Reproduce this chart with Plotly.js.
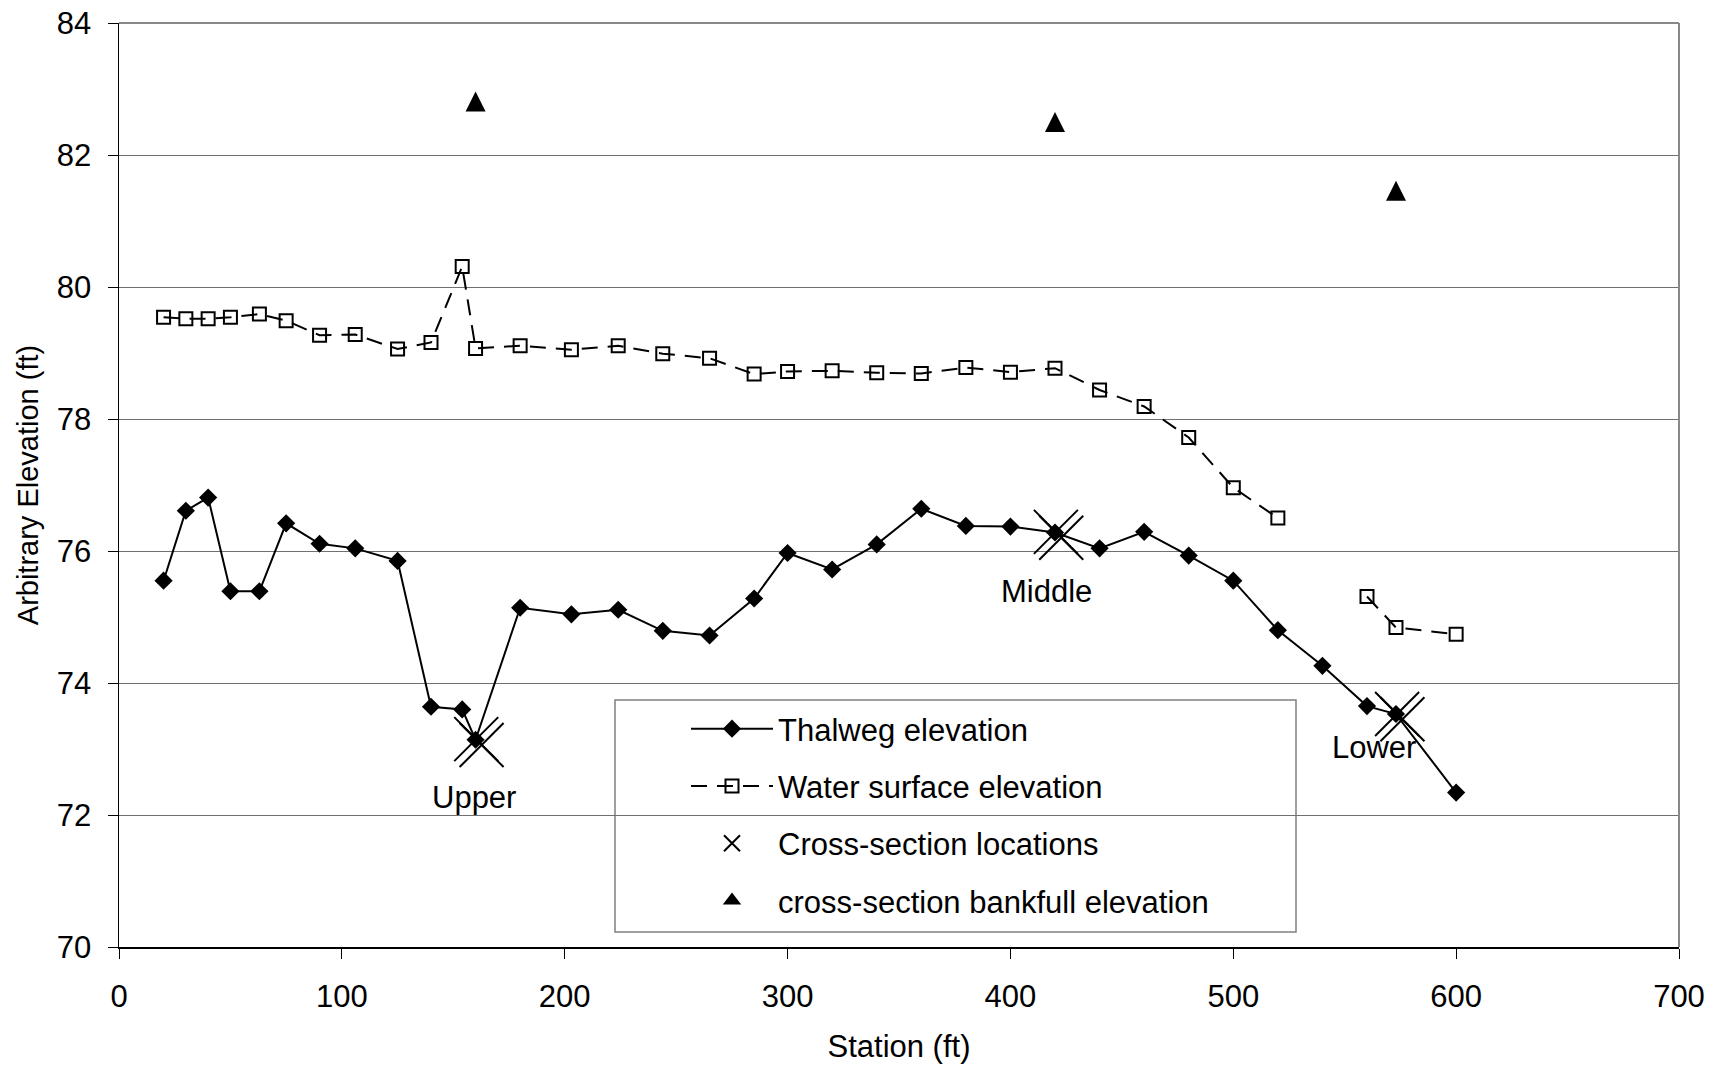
<!DOCTYPE html>
<html>
<head>
<meta charset="utf-8">
<script src="https://cdn.plot.ly/plotly-3.0.1.min.js"></script>
<style>html,body{margin:0;padding:0;background:#fff;}#chart{width:1723px;height:1066px;}</style>
</head>
<body>
<div id="chart"></div>
<script>
// ---- data ----
const stations = [20,30,40,50,63,75,90,106,125,140,154,160,180,203,224,244,265,285,300,320,340,360,380,400,420,440,460,480,500,520,540,560,573,600];
const thalwegElev = [75.55,76.61,76.81,75.39,75.39,76.42,76.11,76.04,75.85,73.64,73.60,73.14,75.14,75.04,75.11,74.79,74.72,75.28,75.97,75.72,76.10,76.64,76.38,76.37,76.28,76.04,76.29,75.93,75.55,74.80,74.26,73.65,73.53,72.34];
const waterElev = [79.54,79.52,79.52,79.54,79.59,79.49,79.27,79.28,79.06,79.16,80.31,79.07,79.11,79.05,79.11,78.99,78.92,78.68,78.72,78.73,78.70,78.69,78.78,78.71,78.77,78.44,78.19,77.72,76.96,76.50,null,75.31,74.84,74.74];
const xsStations = [160.3,162.7,420.4,422.8,573.5,575.9];
const xsElev = [73.15,73.06,76.29,76.20,73.53,73.45];
const bankStations = [160,420,573];
const bankElev = [82.81,82.50,81.46];
const sectionNames = ["Upper","Middle","Lower"];
const sectionLabelX = [159.4,416.4,563.2];
const sectionLabelY = [72.27,75.38,73.03];
const seriesNames = ["Thalweg elevation","Water surface elevation","Cross-section locations","cross-section bankfull elevation"];

const FONT = "Liberation Sans, Arial, Helvetica, sans-serif";
const FS = 31;   // horizontal text
const FSV = 29;  // vertical axis title

const traces = [
  {x: stations, y: thalwegElev, name: seriesNames[0], type: 'scatter', mode: 'lines+markers',
   line: {color: '#000', width: 2}, marker: {symbol: 'diamond', size: 14, color: '#000'}, legendgroup: 'a'},
  {x: stations, y: waterElev, name: seriesNames[1], type: 'scatter', mode: 'lines+markers', connectgaps: false,
   line: {color: '#000', width: 2, dash: '16px,10px'}, marker: {symbol: 'square-open', size: 13, color: '#000', line: {width: 2, color: '#000'}}, legendgroup: 'b'},
  {x: xsStations, y: xsElev, name: seriesNames[2], type: 'scatter', mode: 'markers',
   marker: {symbol: 'x-thin-open', size: 44, color: '#000', line: {width: 2, color: '#000'}}, legendgroup: 'c'},
  // legend entry only (no points) for the bankfull series
  {x: [null], y: [null], name: seriesNames[3], type: 'scatter', mode: 'markers',
   marker: {symbol: 'triangle-up', size: 19, color: '#000'}, legendgroup: 'd'},
  // bankfull points: tall triangle centred on each value
  {x: bankStations, y: bankElev, name: seriesNames[3], type: 'scatter', mode: 'markers', showlegend: false,
   marker: {symbol: 'arrow-down', angle: 180, size: 20, standoff: 10, color: '#000'}, legendgroup: 'd'}
];

const annotations = sectionNames.map((t, i) => ({
  x: sectionLabelX[i], y: sectionLabelY[i], xref: 'x', yref: 'y', text: t, showarrow: false,
  font: {family: FONT, size: FS, color: '#000'}, xanchor: 'center', yanchor: 'middle'
}));

const layout = {
  width: 1723, height: 1066,
  margin: {l: 119, r: 44, t: 23, b: 119, pad: 0},
  paper_bgcolor: '#fff', plot_bgcolor: '#fff',
  font: {family: FONT, size: FS, color: '#000'},
  showlegend: true,
  legend: {
    x: (686 - 119) / 1560, y: 1 - (702 - 23) / 924, xanchor: 'left', yanchor: 'top',
    bgcolor: 'rgba(0,0,0,0)', borderwidth: 0,
    font: {family: FONT, size: FS, color: '#000'},
    traceorder: 'grouped', tracegroupgap: 14, itemwidth: 82
  },
  xaxis: {
    range: [0, 700], dtick: 100, tick0: 0, ticks: 'outside', ticklen: 10, tickwidth: 1, tickcolor: '#000',
    showline: true, linecolor: '#000', linewidth: 1.5, showgrid: false, zeroline: false,
    ticklabelstandoff: 11,
    tickfont: {family: FONT, size: FS, color: '#000'},
    title: {text: 'Station (ft)', font: {family: FONT, size: FS, color: '#000'}, standoff: 22}
  },
  yaxis: {
    range: [70, 84], dtick: 2, tick0: 70, ticks: 'outside', ticklen: 10, tickwidth: 1, tickcolor: '#000',
    showline: true, linecolor: '#000', linewidth: 1.5, showgrid: true, gridcolor: '#707070', gridwidth: 1,
    zeroline: false, ticklabelstandoff: 10,
    tickfont: {family: FONT, size: FS, color: '#000'},
    title: {text: 'Arbitrary Elevation (ft)', font: {family: FONT, size: FSV, color: '#000'}, standoff: 9}
  },
  annotations: annotations,
  shapes: [
    {type: 'line', xref: 'paper', yref: 'paper', x0: 0, x1: 1, y0: 1, y1: 1, line: {color: '#888', width: 2}},
    {type: 'line', xref: 'paper', yref: 'paper', x0: 1, x1: 1, y0: 0, y1: 1, line: {color: '#888', width: 2}},
    {type: 'rect', xref: 'paper', yref: 'paper',
     x0: (615 - 119) / 1560, x1: (1296 - 119) / 1560, y0: 1 - (932 - 23) / 924, y1: 1 - (700 - 23) / 924,
     line: {color: '#808080', width: 1.5}, fillcolor: '#fff', layer: 'below'}
  ]
};

Plotly.newPlot('chart', traces, layout, {displayModeBar: false, staticPlot: true});
</script>
</body>
</html>
